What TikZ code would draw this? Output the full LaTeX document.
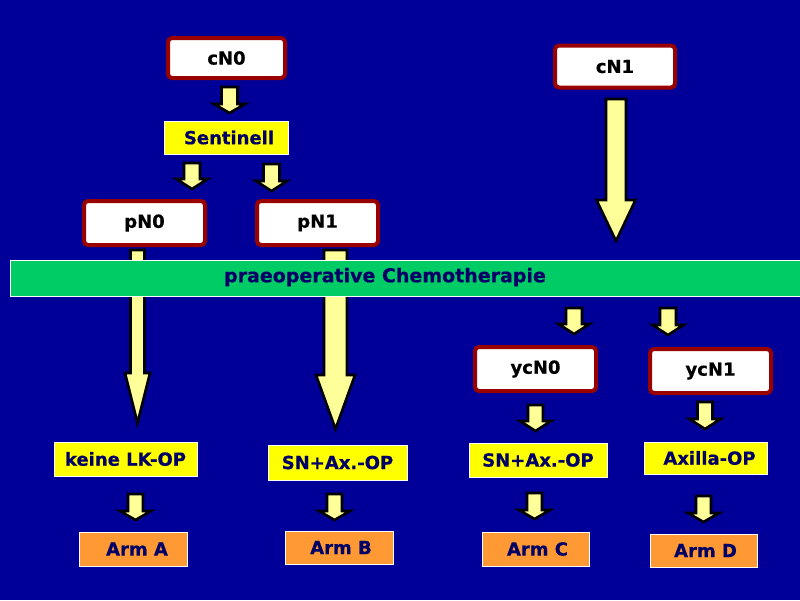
\documentclass[tikz,border=0pt]{standalone}
\usepackage{fontspec}
\setmainfont{DejaVu Sans}[BoldFeatures={FakeBold=0.6}]
\definecolor{bgblue}{HTML}{000099}
\definecolor{boxred}{HTML}{990000}
\definecolor{boxyellow}{HTML}{FFFF00}
\definecolor{bargreen}{HTML}{00CC66}
\definecolor{armorange}{HTML}{FF9933}
\definecolor{arrowfill}{HTML}{FFFF99}
\definecolor{navytext}{HTML}{000066}
\tikzset{
  lbl/.style={font=\fontsize{18}{20}\selectfont\bfseries, inner sep=0pt},
  redbox/.style={lbl, draw=boxred, fill=white, line width=4pt, rounded corners=4pt, text=black},
  yellowbox/.style={lbl, draw=white, fill=boxyellow, line width=1pt, text=navytext},
  armbox/.style={lbl, draw=white, fill=armorange, line width=1pt, text=navytext},
  barstyle/.style={draw=white, fill=bargreen, line width=1pt, inner sep=0pt},
  barrowst/.style={draw=black, fill=arrowfill, line width=2.6pt, line join=miter},
}
% cx, top, tip, shaft half width, head half width, head start
\newcommand\blockarr[6]{%
  \draw[barrowst] (#1-#4,#2) -- (#1+#4,#2) -- (#1+#4,#6) -- (#1+#5,#6) -- (#1,#3) -- (#1-#5,#6) -- (#1-#4,#6) -- cycle;}
\begin{document}
\begin{tikzpicture}[x=1pt,y=-1pt]
\fill[bgblue] (0,0) rectangle (800,600);
\useasboundingbox (0,0) rectangle (800,600);

% red boxes
\node[redbox, minimum width=117, minimum height=40] (cN0) at (226.5,58) {cN0};
\node[redbox, minimum width=120, minimum height=42] (cN1) at (615,66.5) {cN1};
\node[redbox, minimum width=121, minimum height=44] (pN0) at (144.5,223) {pN0};
\node[redbox, minimum width=121, minimum height=44] (pN1) at (317.5,223) {pN1};
\node[redbox, minimum width=121, minimum height=44] (ycN0) at (535.5,369) {ycN0};
\node[redbox, minimum width=121, minimum height=44] (ycN1) at (710.5,371) {ycN1};

% yellow boxes
\node[yellowbox, minimum width=124, minimum height=33] (sent) at (226,137.5) {\hspace{6pt}Sentinell};
\node[yellowbox, minimum width=143, minimum height=34] (keine) at (125.5,459) {keine LK-OP};
\node[yellowbox, minimum width=139, minimum height=35] (snaxB) at (337.5,462.5) {SN+Ax.-OP};
\node[yellowbox, minimum width=138, minimum height=34] (snaxC) at (538,460) {SN+Ax.-OP};
\node[yellowbox, minimum width=123, minimum height=32] (axilla) at (705.5,458) {\hspace{8pt}Axilla-OP};

% arm boxes
\node[armbox, minimum width=108, minimum height=34] (armA) at (133,549) {\hspace{8pt}Arm A};
\node[armbox, minimum width=108, minimum height=33] (armB) at (339,547.5) {\hspace{4pt}Arm B};
\node[armbox, minimum width=107, minimum height=34] (armC) at (535.5,549) {\hspace{4pt}Arm C};
\node[armbox, minimum width=107, minimum height=33] (armD) at (703.5,550.5) {\hspace{4pt}Arm D};

% long arrows (behind the bar)
\blockarr{137.5}{250}{423}{7}{12.5}{373}
\blockarr{335.5}{250}{429}{11.5}{19.5}{375}
\blockarr{616}{99}{241}{10}{19.5}{200}

% chemotherapy bar
\node[barstyle, minimum width=800, minimum height=36, anchor=west] (chemo) at (10,278) {};
\node[lbl, text=navytext, font=\fontsize{19}{21}\selectfont\bfseries] (chemotext) at (385,277) {praeoperative Chemotherapie};

% small arrows
\blockarr{229.5}{87}{113}{8}{15.5}{104}
\blockarr{192}{163}{189}{8}{15.5}{179}
\blockarr{271.5}{164}{191}{8}{15.5}{181}
\blockarr{574}{308}{334}{8}{15.5}{324}
\blockarr{668}{308}{335}{8}{15.5}{325}
\blockarr{535.5}{405}{431}{7.5}{15.5}{421}
\blockarr{705}{402}{429}{7.5}{15.5}{419}
\blockarr{534.5}{493}{519}{7.5}{15.5}{510}
\blockarr{703.5}{496}{522}{7.5}{15.5}{513}
\blockarr{135.5}{494}{520}{7.5}{15.5}{511}
\blockarr{334.5}{494}{520}{7.5}{15.5}{511}
\end{tikzpicture}
\end{document}
